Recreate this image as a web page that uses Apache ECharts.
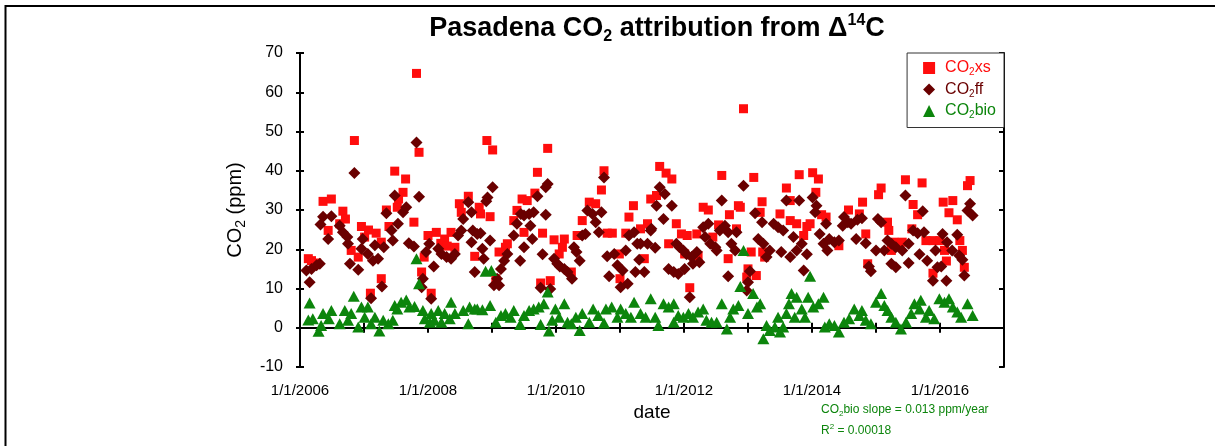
<!DOCTYPE html>
<html>
<head>
<meta charset="utf-8">
<script src="https://cdn.jsdelivr.net/npm/echarts@6/dist/echarts.min.js"></script>
<style>
  html, body { margin: 0; padding: 0; background: #fff; }
  #chart { width: 1215px; height: 446px; }
</style>
</head>
<body>
<div id="chart"></div>
<script>
// ---- data (decimal year, ppm) ----
const xsData = [
  [2006.13,17.6],[2006.18,17.1],[2006.26,16.5],[2006.36,32.2],[2006.44,24.8],[2006.49,32.8],[2006.62,26.5],[2006.67,29.7],[2006.71,27.7],[2006.80,19.7],
  [2006.85,47.7],[2006.91,18.0],[2006.96,25.8],[2007.01,23.1],[2007.07,24.9],[2007.10,8.8],[2007.19,24.1],[2007.27,21.8],[2007.27,12.5],[2007.35,30.0],
  [2007.39,25.8],[2007.48,39.9],[2007.52,30.7],[2007.54,32.8],[2007.61,34.5],[2007.65,37.9],[2007.78,26.9],[2007.82,64.8],[2007.86,44.7],[2007.90,14.2],
  [2007.94,18.0],[2008.00,23.5],[2008.05,8.8],[2008.13,24.3],[2008.20,21.5],[2008.26,22.6],[2008.30,20.8],[2008.36,24.3],[2008.42,20.5],[2008.49,31.6],
  [2008.52,29.4],[2008.63,33.5],[2008.73,18.2],
  [2008.80,30.7],[2008.82,29.0],[2008.92,47.7],[2008.97,28.3],[2009.01,45.3],[2009.06,12.5],[2009.11,19.3],[2009.21,20.5],[2009.24,21.4],[2009.34,27.3],
  [2009.39,29.9],[2009.47,32.8],[2009.50,24.3],[2009.55,32.4],[2009.67,34.3],[2009.71,39.6],[2009.76,11.4],[2009.79,24.1],[2009.87,45.7],[2009.91,12.0],
  [2009.97,22.4],[2010.05,18.8],[2010.10,20.5],[2010.13,22.6],[2010.24,14.2],[2010.33,23.5],[2010.41,27.3],[2010.52,32.0],[2010.62,31.6],[2010.71,35.1],
  [2010.75,40.0],[2010.80,24.1],[2010.88,24.1],[2010.99,18.8],[2011.00,12.5],[2011.09,24.1],[2011.14,28.2],[2011.21,31.1],[2011.32,25.2],[2011.38,17.6],
  [2011.43,26.5],[2011.48,32.8],
  [2011.57,33.7],[2011.62,41.1],[2011.72,39.4],[2011.76,21.4],[2011.81,37.9],[2011.88,26.5],[2011.96,23.9],[2012.01,18.8],[2012.05,23.5],[2012.09,10.2],
  [2012.20,23.9],[2012.22,18.4],[2012.30,30.7],[2012.38,30.0],[2012.45,23.1],[2012.54,26.2],[2012.59,38.8],[2012.69,17.6],[2012.71,28.8],[2012.82,25.2],
  [2012.85,31.1],[2012.88,30.7],[2012.93,55.8],[2012.98,12.9],[2013.00,15.0],[2013.05,19.3],[2013.09,38.3],[2013.13,13.3],[2013.19,29.4],[2013.22,32.1],
  [2013.23,19.3],[2013.26,18.0],[2013.50,29.0],[2013.60,35.6],[2013.66,32.4],[2013.66,27.3],[2013.76,26.5],[2013.80,39.0],[2013.87,23.5],[2013.92,25.8],
  [2013.97,26.5],[2014.01,39.5],[2014.06,34.5],[2014.10,37.9],[2014.15,28.8],
  [2014.22,28.2],[2014.42,20.9],[2014.57,30.0],[2014.74,29.0],[2014.79,32.0],[2014.84,23.9],[2014.87,16.3],[2015.04,33.9],[2015.08,35.6],[2015.18,26.9],
  [2015.20,24.8],[2015.24,19.7],[2015.28,21.8],[2015.41,21.8],[2015.46,37.7],[2015.56,25.2],[2015.58,31.4],[2015.65,28.8],[2015.72,36.9],[2015.78,22.2],
  [2015.89,22.2],[2015.89,13.9],[2016.00,22.2],[2016.05,32.0],[2016.07,19.7],[2016.10,17.0],[2016.14,29.3],[2016.20,32.4],[2016.27,27.5],[2016.31,22.2],
  [2016.35,19.7],[2016.38,15.4],[2016.43,36.2],[2016.47,37.5]
];
const ffData = [
  [2006.10,14.6],[2006.15,11.6],[2006.18,15.0],[2006.26,15.9],[2006.31,16.3],[2006.32,26.3],[2006.36,28.3],[2006.44,22.6],[2006.49,28.4],[2006.62,26.0],
  [2006.67,24.3],[2006.74,23.1],[2006.75,21.4],[2006.78,16.3],[2006.85,39.4],[2006.91,14.8],[2006.96,20.1],[2006.98,22.6],[2007.06,18.8],[2007.11,7.5],
  [2007.14,17.1],[2007.17,21.0],[2007.22,17.6],[2007.28,10.5],[2007.31,20.5],[2007.35,29.2],[2007.43,24.8],[2007.45,22.2],[2007.48,33.7],[2007.53,26.5],
  [2007.61,29.4],[2007.66,30.7],[2007.70,21.5],[2007.78,20.7],[2007.82,47.2],[2007.86,33.4],[2007.90,10.3],[2007.92,12.5],[2007.97,19.3],[2008.02,21.4],
  [2008.05,7.4],[2008.09,15.6],[2008.16,20.1],[2008.21,18.8],[2008.29,18.0],[2008.36,17.6],[2008.42,18.8],[2008.47,23.5],[2008.52,24.8],[2008.55,27.7],
  [2008.63,32.0],[2008.68,29.4],[2008.68,21.8],[2008.70,24.8],[2008.73,14.2],
  [2008.77,23.9],[2008.82,24.1],[2008.85,20.1],[2008.87,17.6],[2008.91,32.2],[2008.93,33.2],[2008.97,22.2],[2009.01,35.8],[2009.03,10.8],[2009.08,12.5],
  [2009.11,10.8],[2009.14,15.0],[2009.19,17.1],[2009.24,18.8],[2009.34,23.5],[2009.39,26.5],[2009.44,17.1],[2009.45,29.0],[2009.50,28.6],[2009.50,20.5],
  [2009.58,29.0],[2009.60,26.0],[2009.63,22.6],[2009.65,29.4],[2009.71,33.5],[2009.76,10.2],[2009.79,18.7],[2009.84,35.8],[2009.84,28.8],[2009.87,36.6],
  [2009.91,9.9],[2009.97,17.6],[2010.02,16.3],[2010.06,15.6],[2010.13,15.0],[2010.18,14.2],[2010.25,12.5],[2010.28,20.5],[2010.32,19.3],[2010.37,17.1],
  [2010.41,23.5],[2010.46,23.9],[2010.49,29.9],[2010.57,29.0],[2010.62,26.9],[2010.67,24.3],[2010.71,29.4],[2010.75,38.3],[2010.80,18.2],[2010.83,13.1],
  [2010.91,18.8],[2010.96,15.9],[2011.01,10.3],[2011.04,14.6],[2011.09,19.7],[2011.12,11.2],[2011.14,23.5],[2011.22,24.3],[2011.24,14.2],[2011.27,21.4],
  [2011.30,17.3],[2011.32,21.4],[2011.38,14.2],[2011.43,21.4],[2011.48,24.8],
  [2011.49,25.2],[2011.55,20.4],[2011.57,31.1],[2011.62,35.8],[2011.68,27.7],[2011.70,34.1],[2011.76,15.0],[2011.81,31.1],[2011.84,14.2],[2011.88,21.4],
  [2011.91,13.7],[2011.93,20.5],[2011.99,19.7],[2012.01,15.0],[2012.04,18.7],[2012.09,7.8],[2012.12,18.0],[2012.14,16.3],[2012.20,19.3],[2012.24,16.7],
  [2012.30,25.6],[2012.33,23.1],[2012.38,26.5],[2012.41,21.4],[2012.49,20.5],[2012.51,19.7],[2012.56,24.8],[2012.59,32.4],[2012.64,26.0],[2012.69,24.3],
  [2012.69,13.1],[2012.74,21.4],[2012.80,19.7],[2012.82,24.3],[2012.93,36.2],[2012.98,9.5],[2013.00,11.6],[2013.03,14.4],[2013.11,29.2],[2013.16,22.6],
  [2013.22,26.9],[2013.24,21.4],[2013.29,18.0],[2013.34,19.7],[2013.40,26.5],[2013.47,25.6],[2013.52,19.3],[2013.55,24.8],[2013.60,32.4],[2013.66,18.0],
  [2013.71,23.1],[2013.76,19.7],[2013.80,32.4],[2013.84,21.4],[2013.87,14.6],[2013.92,18.7],[2014.01,33.2],[2014.05,29.4],[2014.07,31.1],[2014.12,23.9],
  [2014.18,21.4],
  [2014.22,26.5],[2014.24,19.7],[2014.27,22.6],[2014.35,21.8],[2014.42,22.2],[2014.48,26.0],[2014.50,28.2],[2014.56,26.9],[2014.61,26.5],[2014.69,22.6],
  [2014.71,27.5],[2014.78,27.9],[2014.84,21.5],[2014.89,15.6],[2014.92,14.4],[2015.00,19.7],[2015.03,27.7],[2015.08,26.9],[2015.13,19.7],[2015.18,22.2],
  [2015.24,21.4],[2015.24,16.3],[2015.31,20.5],[2015.31,15.4],[2015.41,19.7],[2015.46,33.7],[2015.51,21.4],[2015.51,16.5],[2015.58,24.8],[2015.65,24.1],
  [2015.68,18.7],[2015.73,29.7],[2015.75,24.3],[2015.80,17.1],[2015.89,12.0],[2015.93,19.7],[2015.96,15.4],[2016.02,15.6],[2016.04,23.9],[2016.10,12.0],
  [2016.11,21.8],[2016.19,19.7],[2016.27,23.7],[2016.30,18.4],[2016.35,17.3],[2016.38,13.3],[2016.43,29.9],[2016.47,31.6],[2016.51,28.6]
];
const bioData = [
  [2006.13,2.0],[2006.15,6.3],[2006.20,2.3],[2006.29,-0.9],[2006.33,0.6],[2006.36,3.6],[2006.45,2.3],[2006.49,4.4],[2006.62,1.0],[2006.70,4.4],
  [2006.75,1.9],[2006.80,3.6],[2006.84,8.0],[2006.91,0.2],[2006.96,5.3],[2007.01,2.7],[2007.06,5.3],[2007.11,1.0],[2007.17,2.7],[2007.24,-0.8],
  [2007.30,1.9],[2007.38,1.0],[2007.45,1.9],[2007.48,5.7],[2007.52,4.8],[2007.58,6.5],[2007.66,7.1],[2007.71,5.3],[2007.79,5.4],[2007.82,17.6],
  [2007.86,11.2],[2007.92,4.4],[2007.95,2.3],[2008.03,1.4],[2008.05,3.6],[2008.10,1.9],[2008.16,4.4],[2008.21,1.4],[2008.26,3.6],[2008.34,2.3],
  [2008.36,6.5],[2008.42,3.6],[2008.55,4.4],[2008.63,1.0],[2008.65,5.3],[2008.73,4.8],
  [2008.77,4.8],[2008.85,4.6],[2008.90,14.4],[2008.97,5.7],[2008.99,14.6],[2009.06,1.4],[2009.14,3.1],[2009.21,3.6],[2009.29,2.7],[2009.34,4.4],
  [2009.44,0.8],[2009.50,3.1],[2009.58,4.4],[2009.65,4.8],[2009.73,5.3],[2009.76,0.8],[2009.81,6.1],[2009.87,9.1],[2009.89,-0.8],[2009.94,1.9],
  [2009.99,4.8],[2010.05,2.7],[2010.13,6.1],[2010.18,1.4],[2010.24,1.0],[2010.31,2.7],[2010.37,-0.7],[2010.41,3.6],[2010.52,1.4],[2010.58,4.8],
  [2010.66,3.1],[2010.75,1.2],[2010.78,4.8],[2010.87,5.3],[2010.96,2.7],[2011.01,4.8],[2011.09,3.6],[2011.17,2.7],[2011.22,6.5],[2011.32,3.6],
  [2011.40,2.7],[2011.48,7.4],
  [2011.55,2.7],[2011.60,0.6],[2011.68,6.1],[2011.76,5.3],[2011.84,6.1],[2011.84,1.4],[2011.91,3.1],[2011.99,2.7],[2012.07,3.6],[2012.14,2.7],
  [2012.22,4.0],[2012.30,4.8],[2012.35,1.9],[2012.43,1.4],[2012.51,1.4],[2012.59,6.1],[2012.67,-0.3],[2012.72,2.7],[2012.77,4.8],[2012.85,5.7],
  [2012.88,10.5],[2012.93,19.7],[2013.00,3.6],[2013.08,8.7],[2013.14,5.3],[2013.19,6.1],[2013.24,-2.8],[2013.29,0.6],[2013.34,-0.7],[2013.42,0.2],
  [2013.47,2.7],[2013.50,-1.1],[2013.55,0.2],[2013.60,3.6],[2013.64,6.1],[2013.68,8.7],[2013.73,2.7],[2013.76,7.8],[2013.84,4.8],[2013.89,2.7],
  [2013.94,7.8],[2013.97,13.1],[2014.02,5.3],[2014.10,6.1],[2014.18,7.8],[2014.20,0.2],
  [2014.27,1.0],[2014.35,0.6],[2014.42,-1.1],[2014.50,1.4],[2014.58,2.3],[2014.66,4.8],[2014.74,3.1],[2014.78,4.4],[2014.84,1.9],[2014.92,1.0],
  [2015.00,6.5],[2015.08,8.7],[2015.13,5.7],[2015.18,4.4],[2015.24,2.7],[2015.31,1.4],[2015.39,-0.3],[2015.47,1.4],[2015.55,3.6],[2015.60,6.1],
  [2015.68,4.8],[2015.70,7.0],[2015.78,2.7],[2015.83,4.4],[2015.91,2.3],[2015.99,7.4],[2016.07,6.5],[2016.14,7.4],[2016.20,5.3],[2016.27,4.0],
  [2016.33,2.7],[2016.43,6.1],[2016.51,3.1]
];
const seriesNames = ['CO2xs', 'CO2ff', 'CO2bio'];
const xRange = [2006, 2017];
const yRange = [-10, 70];
const titleText = '{a|Pasadena CO}{sub|2}{a| attribution from \u0394}{sup|14}{a|C}';
const slopeText = 'bio slope = 0.013 ppm/year';
const r2Text = ' = 0.00018';

const RED = '#ff0d0d', DARK = '#6a0000', GREEN = '#0c850c';
const FONT = 'Liberation Sans, Arial, sans-serif';

const chart = echarts.init(document.getElementById('chart'), null, {renderer: 'canvas'});

const axisLineStyle = {show: true, lineStyle: {color: '#000', width: 2}};
const option = {
  backgroundColor: '#fff',
  animation: false,
  textStyle: {fontFamily: FONT},
  title: {
    text: titleText,
    left: 652, top: 8, textAlign: 'center',
    textStyle: {
      rich: {
        a: {fontSize: 27, fontWeight: 'bold', color: '#000', fontFamily: FONT, lineHeight: 32, verticalAlign: 'middle'},
        sub: {fontSize: 16, fontWeight: 'bold', color: '#000', fontFamily: FONT, lineHeight: 16, verticalAlign: 'bottom'},
        sup: {fontSize: 16, fontWeight: 'bold', color: '#000', fontFamily: FONT, lineHeight: 16, verticalAlign: 'top'}
      }
    }
  },
  grid: {left: 300, right: 211, top: 53, bottom: 79, containLabel: false},
  legend: {
    orient: 'vertical', right: 211, top: 53,
    padding: [7, 8, 7, 16],
    itemGap: 4, itemWidth: 12, itemHeight: 12,
    backgroundColor: '#fff', borderColor: '#333', borderWidth: 1, borderRadius: 0,
    data: [
      {name: 'CO2xs', textStyle: {color: RED}, itemStyle: {}},
      {name: 'CO2ff', textStyle: {color: DARK}},
      {name: 'CO2bio', textStyle: {color: GREEN}}
    ],
    formatter: function (name) {
      const k = name === 'CO2xs' ? 'r' : (name === 'CO2ff' ? 'd' : 'g');
      return '{' + k + 'p|CO}{' + k + 's|2}{' + k + '|' + name.slice(3) + '}';
    },
    textStyle: {
      fontSize: 16,
      rich: {
        rp: {color: RED, fontSize: 16, fontFamily: FONT, lineHeight: 19, verticalAlign: 'middle', padding: [0, 0, 0, 5]},
        r: {color: RED, fontSize: 16, fontFamily: FONT, lineHeight: 19, verticalAlign: 'middle'},
        rs: {color: RED, fontSize: 10, fontFamily: FONT, lineHeight: 10, verticalAlign: 'bottom'},
        dp: {color: DARK, fontSize: 16, fontFamily: FONT, lineHeight: 19, verticalAlign: 'middle', padding: [0, 0, 0, 5]},
        d: {color: DARK, fontSize: 16, fontFamily: FONT, lineHeight: 19, verticalAlign: 'middle'},
        ds: {color: DARK, fontSize: 10, fontFamily: FONT, lineHeight: 10, verticalAlign: 'bottom'},
        gp: {color: GREEN, fontSize: 16, fontFamily: FONT, lineHeight: 19, verticalAlign: 'middle', padding: [0, 0, 0, 5]},
        g: {color: GREEN, fontSize: 16, fontFamily: FONT, lineHeight: 19, verticalAlign: 'middle'},
        gs: {color: GREEN, fontSize: 10, fontFamily: FONT, lineHeight: 10, verticalAlign: 'bottom'}
      }
    }
  },
  xAxis: [
    {
      type: 'value', min: xRange[0], max: xRange[1], interval: 1,
      name: 'date', nameLocation: 'middle', nameGap: 36,
      nameTextStyle: {fontSize: 19, color: '#000', fontFamily: FONT},
      axisLine: axisLineStyle,
      axisTick: {show: true, inside: true, length: 5, lineStyle: {color: '#000', width: 2}},
      axisLabel: {
        color: '#000', fontSize: 15, margin: 16, fontFamily: FONT, showMaxLabel: true, showMinLabel: true,
        formatter: v => (v % 2 === 0 && v < xRange[1]) ? '1/1/' + v : ''
      },
      splitLine: {show: false}
    },
    {
      type: 'value', position: 'top', min: xRange[0], max: xRange[1], interval: 1,
      axisLine: axisLineStyle,
      axisTick: {show: true, inside: true, length: 5, lineStyle: {color: '#000', width: 2}},
      axisLabel: {show: false}, splitLine: {show: false}
    }
  ],
  yAxis: [
    {
      type: 'value', min: yRange[0], max: yRange[1], interval: 10,
      name: '{a|CO}{s|2}{a| (ppm)}', nameLocation: 'middle', nameGap: 52, nameRotate: 90,
      nameTextStyle: {
        rich: {
          a: {fontSize: 20, color: '#000', fontFamily: FONT, lineHeight: 25, verticalAlign: 'middle'},
          s: {fontSize: 14, color: '#000', fontFamily: FONT, lineHeight: 14, verticalAlign: 'bottom'}
        }
      },
      axisLine: axisLineStyle,
      axisTick: {show: true, inside: false, length: 4, lineStyle: {color: '#000', width: 2}},
      axisLabel: {color: '#000', fontSize: 16, margin: 17, fontFamily: FONT},
      splitLine: {show: false}
    },
    {
      type: 'value', position: 'right', min: yRange[0], max: yRange[1], interval: 10,
      axisLine: axisLineStyle,
      axisTick: {show: true, inside: true, length: 5, lineStyle: {color: '#000', width: 2}},
      axisLabel: {show: false}, splitLine: {show: false}
    },
    {
      type: 'value', position: 'left', offset: 0, min: yRange[0], max: yRange[1], interval: 10,
      axisLine: {show: false},
      axisTick: {show: true, inside: true, length: 4, lineStyle: {color: '#000', width: 2}},
      axisLabel: {show: false}, splitLine: {show: false}
    }
  ],
  series: [
    {
      name: seriesNames[0], type: 'scatter', data: xsData, symbol: 'rect', symbolSize: 9,
      itemStyle: {color: RED, opacity: 1}, z: 2
    },
    {
      name: seriesNames[1], type: 'scatter', data: ffData, symbol: 'diamond', symbolSize: 12,
      itemStyle: {color: DARK, opacity: 1}, z: 3
    },
    {
      name: seriesNames[2], type: 'scatter', data: bioData, symbol: 'triangle', symbolSize: [12, 11],
      itemStyle: {color: GREEN, opacity: 1}, z: 4
    }
  ],
  graphic: [
    {type: 'line', shape: {x1: 5, y1: 6, x2: 1215, y2: 6}, style: {stroke: '#000', lineWidth: 2}, silent: true},
    {type: 'line', shape: {x1: 5.5, y1: 5, x2: 5.5, y2: 446}, style: {stroke: '#000', lineWidth: 2}, silent: true},
    {
      type: 'text', left: 821, top: 404, silent: true,
      style: {
        text: '{g|CO}{s|2}{g|' + slopeText + '}',
        rich: {
          g: {fill: GREEN, fontSize: 12, fontFamily: FONT, lineHeight: 15, verticalAlign: 'middle'},
          s: {fill: GREEN, fontSize: 8, fontFamily: FONT, lineHeight: 8, verticalAlign: 'bottom'}
        }
      }
    },
    {
      type: 'text', left: 821, top: 423, silent: true,
      style: {
        text: '{g|R}{p|2}{g|' + r2Text + '}',
        rich: {
          g: {fill: GREEN, fontSize: 12, fontFamily: FONT, lineHeight: 15, verticalAlign: 'middle'},
          p: {fill: GREEN, fontSize: 8, fontFamily: FONT, lineHeight: 8, verticalAlign: 'top'}
        }
      }
    }
  ]
};
chart.setOption(option);
</script>
</body>
</html>
